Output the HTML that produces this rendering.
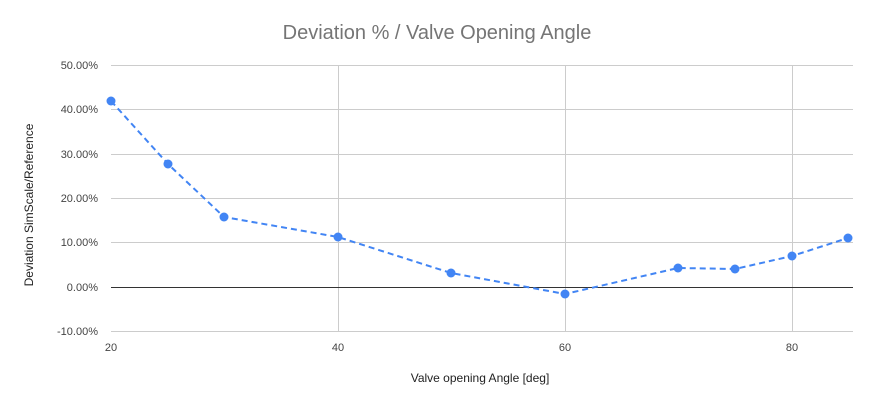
<!DOCTYPE html>
<html><head><meta charset="utf-8"><style>body{margin:0;background:#fff}svg{display:block}</style></head><body>
<svg width="875" height="404" xmlns="http://www.w3.org/2000/svg" font-family="Liberation Sans, Arial, sans-serif">
<rect width="875" height="404" fill="#fff"/>
<text x="437" y="39" text-anchor="middle" font-size="20" fill="#757575">Deviation % / Valve Opening Angle</text>
<g stroke="#cccccc" stroke-width="1">
<line x1="111" y1="65.5" x2="853" y2="65.5"/>
<line x1="111" y1="109.5" x2="853" y2="109.5"/>
<line x1="111" y1="154.5" x2="853" y2="154.5"/>
<line x1="111" y1="198.5" x2="853" y2="198.5"/>
<line x1="111" y1="242.5" x2="853" y2="242.5"/>
<line x1="111" y1="331.5" x2="853" y2="331.5"/>
<line x1="338.5" y1="65" x2="338.5" y2="331"/>
<line x1="565.5" y1="65" x2="565.5" y2="331"/>
<line x1="792.5" y1="65" x2="792.5" y2="331"/>
</g>
<line x1="111" y1="287.5" x2="853" y2="287.5" stroke="#333" stroke-width="1"/>
<g font-size="11" fill="#444" text-anchor="end">
<text x="98" y="69">50.00%</text>
<text x="98" y="113">40.00%</text>
<text x="98" y="158">30.00%</text>
<text x="98" y="202">20.00%</text>
<text x="98" y="246">10.00%</text>
<text x="98" y="291">0.00%</text>
<text x="98" y="335">-10.00%</text>
</g>
<g font-size="11" fill="#444" text-anchor="middle">
<text x="111" y="351">20</text>
<text x="338" y="351">40</text>
<text x="565" y="351">60</text>
<text x="792" y="351">80</text>
</g>
<text x="480" y="382" text-anchor="middle" font-size="12" fill="#222">Valve opening Angle [deg]</text>
<text transform="translate(33,205) rotate(-90)" text-anchor="middle" font-size="12" fill="#222">Deviation SimScale/Reference</text>
<polyline fill="none" stroke="#4285f4" stroke-width="2" stroke-dasharray="6,4" points="111,101 168,164 224,217 338,237 451,273 565,294 678,268 735,269 792,256 848,238"/>
<g fill="#4285f4">
<circle cx="111" cy="101" r="4.5"/><circle cx="168" cy="164" r="4.5"/><circle cx="224" cy="217" r="4.5"/><circle cx="338" cy="237" r="4.5"/><circle cx="451" cy="273" r="4.5"/><circle cx="565" cy="294" r="4.5"/><circle cx="678" cy="268" r="4.5"/><circle cx="735" cy="269" r="4.5"/><circle cx="792" cy="256" r="4.5"/><circle cx="848" cy="238" r="4.5"/>
</g>
</svg>
</body></html>
